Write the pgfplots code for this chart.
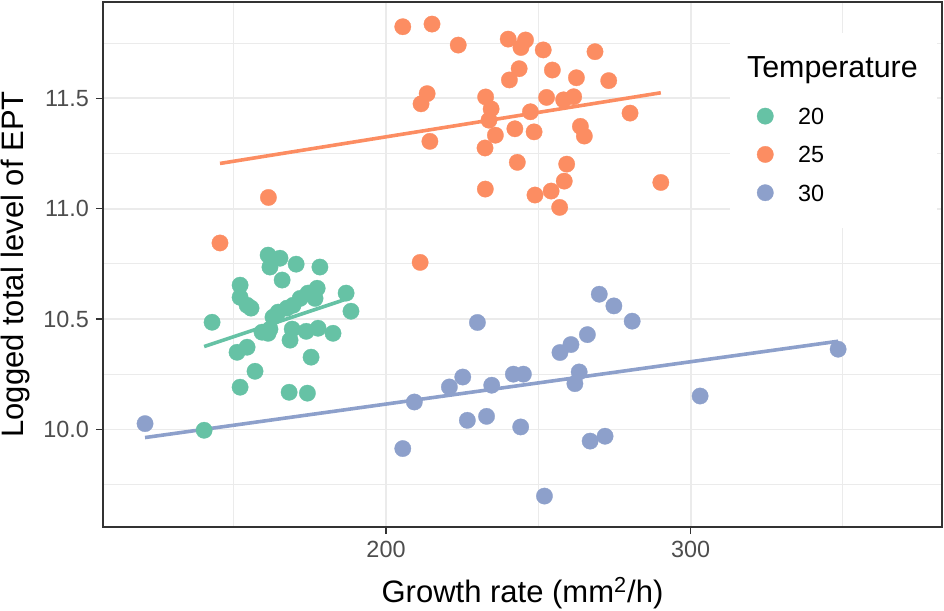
\documentclass[border=0pt]{standalone}
\usepackage{pgfplots}
\pgfplotsset{compat=1.18}
\usepackage{pgfplotstable}
\usepackage{fontspec}
\setmainfont{Liberation Sans}
\definecolor{cG}{HTML}{66C2A5}
\definecolor{cO}{HTML}{FC8D62}
\definecolor{cB}{HTML}{8DA0CB}
\definecolor{gridc}{HTML}{EBEBEB}
\definecolor{framec}{HTML}{333333}
\definecolor{ticklab}{HTML}{4D4D4D}

\pgfplotstableread{
x y
140.3 9.997
142.9 10.486
152.1 10.654
152.1 10.599
154.4 10.563
155.7 10.550
161.3 10.790
165.2 10.776
161.9 10.736
170.5 10.749
165.9 10.677
178.3 10.736
177.4 10.640
186.9 10.618
188.5 10.536
151.1 10.350
154.4 10.373
157.0 10.264
152.1 10.192
168.2 10.169
174.2 10.165
175.4 10.328
161.3 10.436
161.9 10.455
169.2 10.455
168.5 10.405
173.8 10.445
177.7 10.459
182.6 10.436
171.8 10.594
174.4 10.618
176.7 10.594
169.5 10.563
167.5 10.550
164.6 10.532
162.9 10.509
159.3 10.441
}\greendata

\pgfplotstableread{
x y
145.5 10.845
161.4 11.051
205.5 11.824
215.1 11.836
223.7 11.741
240.1 11.768
244.3 11.730
245.8 11.764
251.6 11.719
268.6 11.711
243.7 11.634
240.5 11.583
254.6 11.628
262.5 11.593
273.1 11.580
213.5 11.521
211.5 11.475
232.7 11.506
234.5 11.452
233.8 11.401
235.9 11.333
252.7 11.504
258.3 11.493
261.6 11.507
280.1 11.433
247.4 11.439
242.3 11.362
248.6 11.348
263.8 11.373
265.1 11.329
214.4 11.305
232.5 11.275
243.1 11.210
259.3 11.202
258.5 11.125
254.2 11.080
248.9 11.062
257.0 11.006
232.6 11.089
211.2 10.757
290.2 11.119
}\orangedata

\pgfplotstableread{
x y
120.9 10.027
205.5 9.914
209.3 10.125
220.8 10.193
225.2 10.238
230.0 10.485
226.7 10.042
233.0 10.060
234.7 10.201
241.8 10.251
245.1 10.251
244.2 10.012
252.0 9.699
257.1 10.349
260.7 10.385
266.1 10.430
263.4 10.261
262.0 10.208
267.0 9.948
271.9 9.970
270.0 10.613
274.8 10.560
280.8 10.491
303.1 10.152
348.4 10.364
}\bluedata

\pgfplotsset{
  dot/.style={only marks, mark=*, mark size=4.1pt, color=#1,
    mark options={draw=#1, fill=#1, line width=0.15pt},
    legend image code/.code={\draw[##1, yshift=4.2pt] plot coordinates {(0pt,0pt)};}},
  fitline/.style={forget plot, no marks, color=#1, line width=1.8pt},
}

\begin{document}
\begin{tikzpicture}
\begin{axis}[
  scale only axis, width=419.5pt, height=262.5pt,
  xmin=107.1, xmax=382.5, ymin=9.559, ymax=11.936,
  xtick={200,300}, ytick={10,10.5,11,11.5},
  minor xtick={150,250,350}, minor ytick={9.75,10.25,10.75,11.25,11.75},
  yticklabel style={/pgf/number format/fixed, /pgf/number format/fixed zerofill, /pgf/number format/precision=1},
  /pgf/number format/assume math mode=true,
  grid=both,
  major grid style={color=gridc, line width=0.9pt},
  minor grid style={color=gridc, line width=0.5pt},
  tick align=outside, major tick length=3.5pt, minor tick length=0pt,
  xtick pos=bottom, ytick pos=left,
  tick style={color=framec, line width=0.7pt},
  axis line style={color=framec, line width=0.9pt},
  ticklabel style={font=\fontsize{11.7}{14}\selectfont, color=ticklab},
  xlabel={Growth rate (mm\textsuperscript{2}/h)},
  ylabel={Logged total level of EPT},
  xlabel shift=3pt,
  label style={font=\fontsize{15.5}{18}\selectfont},
  legend cell align=left,
  legend style={at={(rel axis cs:0.7791,0.799)}, anchor=north west, draw=none, fill=none,
    inner sep=0pt, row sep=9.35pt, column sep=12.3pt, nodes={inner sep=0pt, anchor=base west},
    font=\fontsize{11.7}{14}\selectfont},
]
\fill[white] (rel axis cs:0.7473,0.5695) rectangle (rel axis cs:0.9940,0.9410);
\node[anchor=base west, inner sep=0pt, font=\fontsize{15.2}{18}\selectfont] at (rel axis cs:0.7672,0.857) {Temperature};

\addplot[fitline=cG] coordinates {(140.3,10.376) (188.5,10.598)};
\addplot[fitline=cO] coordinates {(145.5,11.205) (290.2,11.525)};
\addplot[fitline=cB] coordinates {(120.9,9.964) (348.4,10.400)};

\addplot[dot=cG] table {\greendata};
\addlegendentry{20}
\addplot[dot=cO] table {\orangedata};
\addlegendentry{25}
\addplot[dot=cB] table {\bluedata};
\addlegendentry{30}
\end{axis}
\pgfresetboundingbox
\path[use as bounding box] ([xshift=-51.5pt,yshift=-42pt]current axis.south west) rectangle ([xshift=1pt,yshift=1pt]current axis.north east);
\end{tikzpicture}
\end{document}
